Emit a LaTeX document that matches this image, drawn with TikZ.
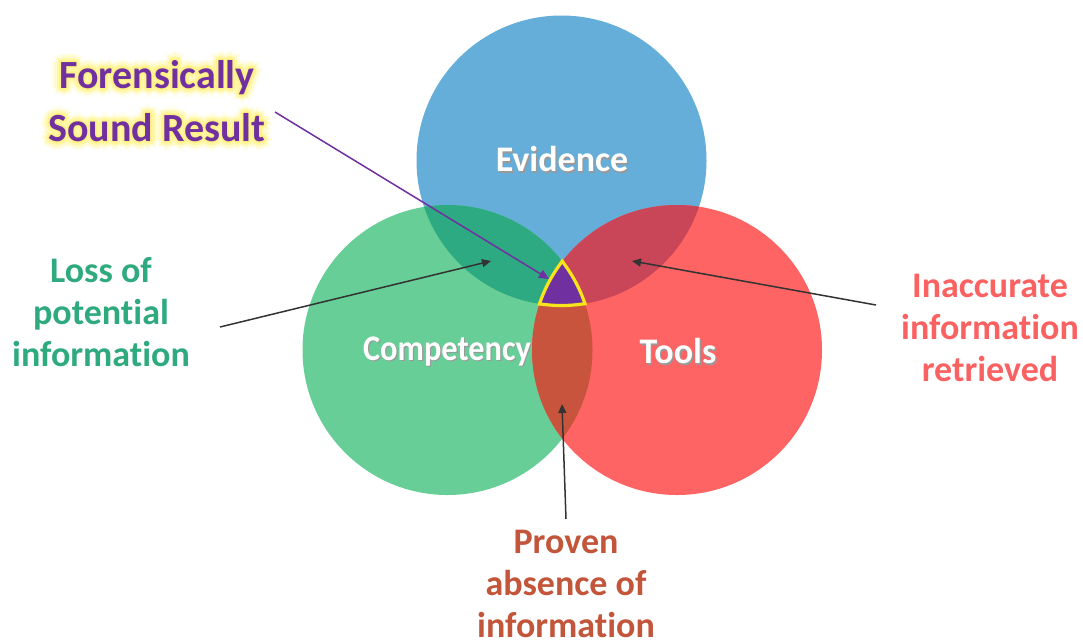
\documentclass[tikz,border=0pt]{standalone}
\usepackage{fontspec}
\setmainfont{Carlito}[Ligatures=NoCommon]
\usetikzlibrary{arrows.meta}

% palette
\definecolor{evblue}{HTML}{64AED9}
\definecolor{cogreen}{HTML}{66CE96}
\definecolor{tored}{HTML}{FF6464}
\definecolor{ecmix}{HTML}{2DAA82}
\definecolor{etmix}{HTML}{C84658}
\definecolor{ctmix}{HTML}{C8543E}
\definecolor{fsrpurple}{HTML}{7030A0}
\definecolor{fsryellow}{HTML}{F7E41A}
\definecolor{glowa}{HTML}{FFFEEE}
\definecolor{glowb}{HTML}{FFFBCF}
\definecolor{glowc}{HTML}{FFF7A8}
\definecolor{glowd}{HTML}{FFF288}
\definecolor{lossgreen}{HTML}{2EAA7E}
\definecolor{inacred}{HTML}{FA6262}
\definecolor{provbrown}{HTML}{C2553A}
\definecolor{arrowgray}{HTML}{333333}

% white circle labels with a soft drop shadow
\newcommand\shadowed[1]{\rlap{\hspace{1.3pt}\raisebox{-1.8pt}{\color{black!40}#1}}#1}

% glowing text: pale copies around the letters, then the text itself
% #1 = straight offset, #2 = diagonal offset, #3 = colour, #4 = text
\newcommand\glowcopy[4]{\rlap{\hspace{#1}\raisebox{#2}{\color{#3}#4}}}
\newcommand\glowring[4]{%
  \glowcopy{#1}{0pt}{#3}{#4}\glowcopy{-#1}{0pt}{#3}{#4}%
  \glowcopy{0pt}{#1}{#3}{#4}\glowcopy{0pt}{-#1}{#3}{#4}%
  \glowcopy{#2}{#2}{#3}{#4}\glowcopy{-#2}{#2}{#3}{#4}%
  \glowcopy{#2}{-#2}{#3}{#4}\glowcopy{-#2}{-#2}{#3}{#4}}
\newcommand\glowline[1]{%
  \glowring{9pt}{6.4pt}{glowa}{#1}%
  \glowring{6.5pt}{4.6pt}{glowb}{#1}%
  \glowring{4.2pt}{3pt}{glowc}{#1}%
  \glowring{2pt}{1.4pt}{glowd}{#1}#1}

\tikzset{
  circlelabel/.style={text=white, font=\bfseries\fontsize{36}{40}\selectfont, inner sep=0pt},
  sidelabel/.style={font=\bfseries\fontsize{36}{42}\selectfont, align=center, inner sep=0pt},
  pointer/.style={draw=arrowgray, fill=arrowgray, line width=1.5pt, -{Triangle[length=9pt,width=8pt]}},
}

\begin{document}
\begin{tikzpicture}[x=1pt,y=-1pt]
  \useasboundingbox (0,0) rectangle (1083,641);

  % circle centres
  \coordinate (ev) at (561.5,160.5);
  \coordinate (co) at (447.5,350);
  \coordinate (to) at (677,350);
  \def\rad{145}

  % plain circles
  \fill[evblue] (ev) circle (\rad);
  \fill[cogreen] (co) circle (\rad);
  \fill[tored] (to) circle (\rad);

  % pairwise overlaps
  \begin{scope}
    \clip (ev) circle (\rad);
    \fill[ecmix] (co) circle (\rad);
    \fill[etmix] (to) circle (\rad);
  \end{scope}
  \begin{scope}
    \clip (co) circle (\rad);
    \fill[ctmix] (to) circle (\rad);
  \end{scope}

  % triple overlap
  \begin{scope}
    \clip (ev) circle (\rad);
    \clip (co) circle (\rad);
    \clip (to) circle (\rad);
    \fill[fsrpurple] (ev) circle (\rad);
  \end{scope}
  % its yellow outline: each circle's arc inside the other two
  \begin{scope}
    \clip (co) circle (\rad+1.6);
    \clip (to) circle (\rad+1.6);
    \draw[fsryellow, line width=3.2pt] (ev) circle (\rad);
  \end{scope}
  \begin{scope}
    \clip (ev) circle (\rad+1.6);
    \clip (to) circle (\rad+1.6);
    \draw[fsryellow, line width=3.2pt] (co) circle (\rad);
  \end{scope}
  \begin{scope}
    \clip (ev) circle (\rad+1.6);
    \clip (co) circle (\rad+1.6);
    \draw[fsryellow, line width=3.2pt] (to) circle (\rad);
  \end{scope}

  % circle labels
  \node[circlelabel] (evlabel) at (562,160) {\shadowed{Evidence}};
  \node[circlelabel] (colabel) at (447,352) {\scalebox{0.9}[1]{\shadowed{Competency}}};
  \node[circlelabel] (tolabel) at (678,352) {\shadowed{Tools}};

  % outer labels
  \node[sidelabel, text=fsrpurple, font=\bfseries\fontsize{40}{47}\selectfont] (fsr) at (157,101)
    {\glowline{Forensically}\\\glowline{Sound Result}};
  \node[sidelabel, text=lossgreen] (loss) at (101,312) {Loss of\\potential\\information};
  \node[sidelabel, text=inacred] (inac) at (990,328) {Inaccurate\\information\\retrieved};
  \node[sidelabel, text=provbrown] (prov) at (566,584) {Proven\\absence of\\information};

  % pointer end points
  \coordinate (fsrstart) at (275,112);
  \coordinate (fsrtip) at (549,279);
  \coordinate (lossstart) at (220,327);
  \coordinate (losstip) at (491,261);
  \coordinate (inacstart) at (876,305);
  \coordinate (inactip) at (632,261);
  \coordinate (provstart) at (566,519);
  \coordinate (provtip) at (562,404);

  \draw[pointer, draw=fsrpurple, fill=fsrpurple, -{Triangle[length=10pt,width=9pt]}] (fsrstart) -- (fsrtip);
  \draw[pointer] (lossstart) -- (losstip);
  \draw[pointer] (inacstart) -- (inactip);
  \draw[pointer] (provstart) -- (provtip);
\end{tikzpicture}
\end{document}
